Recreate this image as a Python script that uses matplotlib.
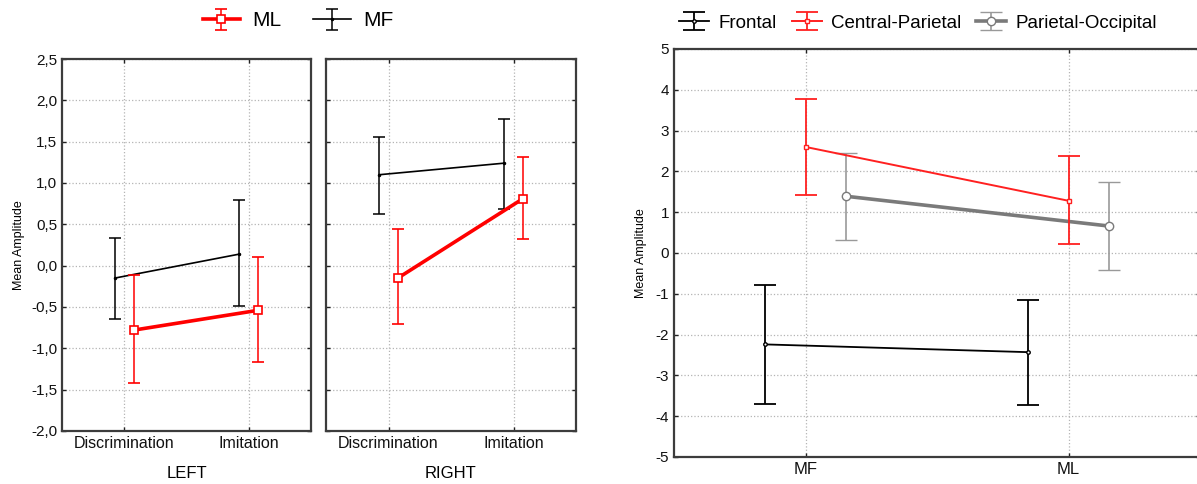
import matplotlib.pyplot as plt
from matplotlib.ticker import FuncFormatter, MultipleLocator

plt.rcParams['font.family'] = ['Liberation Sans', 'DejaVu Sans']
plt.rcParams['axes.unicode_minus'] = False

# data
conditions = ["Discrimination", "Imitation"]

left_ml_mean = [-0.78, -0.54]
left_ml_lo = [-1.42, -1.16]
left_ml_hi = [-0.11, 0.10]
left_mf_mean = [-0.15, 0.14]
left_mf_lo = [-0.64, -0.49]
left_mf_hi = [0.33, 0.79]

right_ml_mean = [-0.15, 0.81]
right_ml_lo = [-0.70, 0.32]
right_ml_hi = [0.44, 1.32]
right_mf_mean = [1.10, 1.24]
right_mf_lo = [0.63, 0.69]
right_mf_hi = [1.56, 1.78]

groups = ["MF", "ML"]
frontal_mean = [-2.24, -2.43]
frontal_lo = [-3.70, -3.73]
frontal_hi = [-0.78, -1.15]
cp_mean = [2.60, 1.28]
cp_lo = [1.42, 0.21]
cp_hi = [3.78, 2.38]
po_mean = [1.39, 0.66]
po_lo = [0.32, -0.42]
po_hi = [2.44, 1.75]

W, H = 1197, 484
fig = plt.figure(figsize=(W / 100, H / 100), dpi=100)


def box(l, r, t, b):
    return [l / W, 1 - b / H, (r - l) / W, (b - t) / H]


def style(ax):
    for s in ax.spines.values():
        s.set_color('#3c3c3c')
        s.set_linewidth(1.6)
    ax.grid(True, linestyle=':', color='#b4b4b4', linewidth=0.9)
    ax.set_axisbelow(True)
    ax.tick_params(direction='in', length=3, width=1, top=True, right=True,
                   color='#222222', labelsize=11, labelcolor='#111111')


def err(mean, lo, hi):
    return [[m - l for m, l in zip(mean, lo)], [h - m for m, h in zip(mean, hi)]]


comma = FuncFormatter(lambda v, p: f"{v:.1f}".replace(".", ","))

ax1 = fig.add_axes(box(62, 311, 59, 431))
ax2 = fig.add_axes(box(326, 576, 59, 431))
ax3 = fig.add_axes(box(674, 1200, 49, 457))

xs = [0, 1]
off = 0.075
panels = [
    (ax1, "LEFT", left_ml_mean, left_ml_lo, left_ml_hi, left_mf_mean, left_mf_lo, left_mf_hi),
    (ax2, "RIGHT", right_ml_mean, right_ml_lo, right_ml_hi, right_mf_mean, right_mf_lo, right_mf_hi),
]
for ax, name, mlm, mll, mlh, mfm, mfl, mfh in panels:
    style(ax)
    mf = ax.errorbar([x - off for x in xs], mfm, yerr=err(mfm, mfl, mfh), color='black',
                     lw=1.2, elinewidth=1.1, capsize=4.5, capthick=1.1,
                     marker='o', ms=1.5, zorder=3)
    ml = ax.errorbar([x + off for x in xs], mlm, yerr=err(mlm, mll, mlh), color='#ff0000',
                     lw=2.6, elinewidth=1.1, capsize=4.5, capthick=1.1,
                     marker='s', ms=6, mfc='white', mec='#ff0000', mew=1.2, zorder=4)
    ax.set_xlim(-0.5, 1.5)
    ax.set_ylim(-2.0, 2.5)
    ax.yaxis.set_major_locator(MultipleLocator(0.5))
    ax.yaxis.set_major_formatter(comma)
    ax.set_xticks(xs)
    ax.set_xticklabels(conditions, fontsize=11.5)
    ax.set_xlabel(name, fontsize=12, labelpad=11)

ax2.tick_params(labelleft=False)
ax1.set_ylabel("Mean Amplitude", fontsize=9, labelpad=4)

fig.legend([ml, mf], ["ML", "MF"], loc='center', bbox_to_anchor=(298 / W, 1 - 21 / H),
           ncol=2, frameon=False, fontsize=15, handlelength=1.8, columnspacing=1.5,
           handletextpad=0.6)

# right chart
style(ax3)
off2 = 0.155
fr = ax3.errorbar([x - off2 for x in xs], frontal_mean, yerr=err(frontal_mean, frontal_lo, frontal_hi),
                  color='black', lw=1.3, elinewidth=1.3, capsize=8, capthick=1.3,
                  marker='o', ms=2.5, mfc='white', zorder=3)
cp = ax3.errorbar(xs, cp_mean, yerr=err(cp_mean, cp_lo, cp_hi),
                  color='#ff2020', lw=1.4, elinewidth=1.3, capsize=8, capthick=1.3,
                  marker='s', ms=3, mfc='white', zorder=4)
po = ax3.errorbar([x + off2 for x in xs], po_mean, yerr=err(po_mean, po_lo, po_hi),
                  color='#7a7a7a', lw=2.6, elinewidth=1.2, capsize=8, capthick=1.2,
                  ecolor='#999999', marker='o', ms=6, mfc='white', mec='#7a7a7a', mew=1, zorder=3)
ax3.set_xlim(-0.5, 1.5)
ax3.set_ylim(-5, 5)
ax3.yaxis.set_major_locator(MultipleLocator(1))
ax3.set_xticks(xs)
ax3.set_xticklabels(groups, fontsize=12)
ax3.set_ylabel("Mean Amplitude", fontsize=9, labelpad=6)

fig.legend([fr, cp, po], ["Frontal", "Central-Parietal", "Parietal-Occipital"], loc='center',
           bbox_to_anchor=(918 / W, 1 - 23 / H), ncol=3, frameon=False, fontsize=13.5,
           handlelength=1.6, columnspacing=0.8, handletextpad=0.5)

fig.savefig("out.png", dpi=100)
